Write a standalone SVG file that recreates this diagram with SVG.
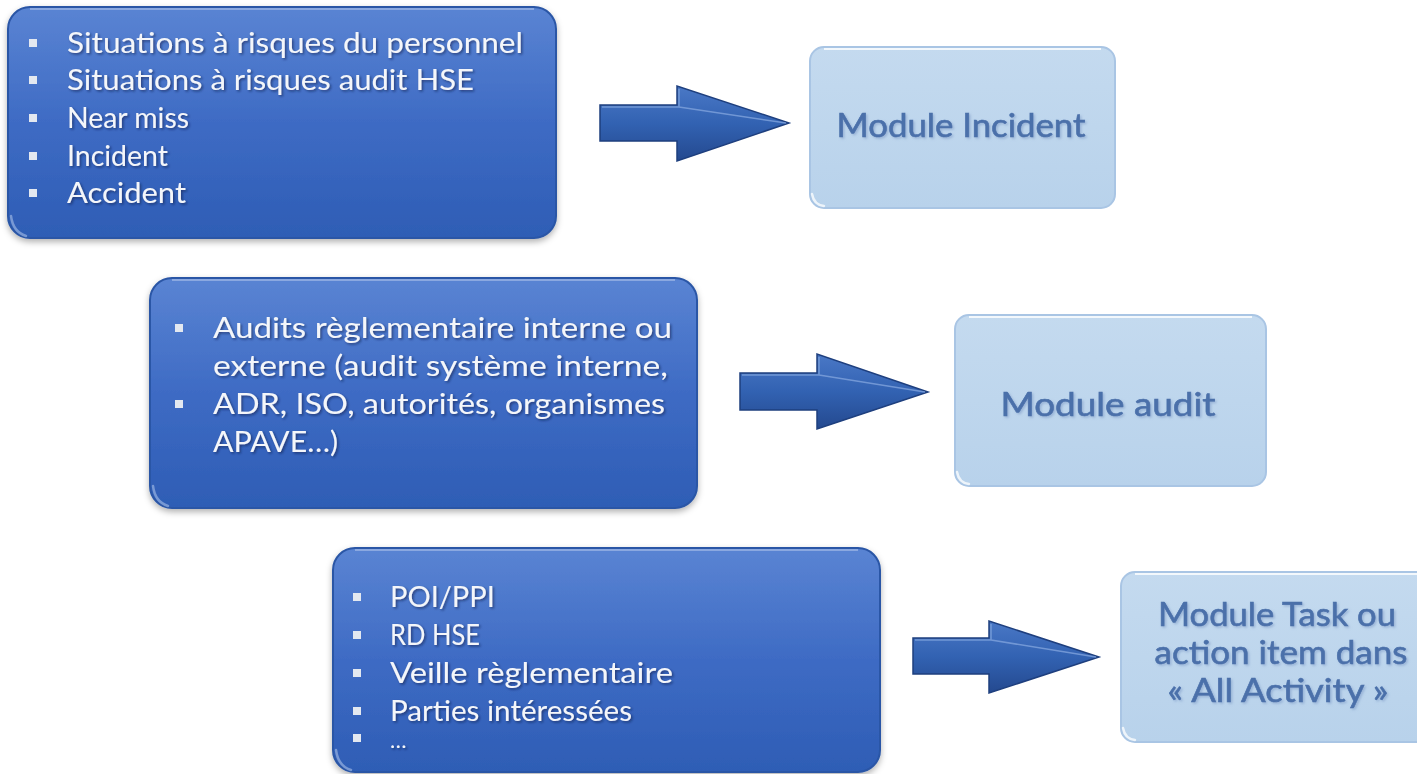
<svg xmlns="http://www.w3.org/2000/svg" width="1417" height="774" viewBox="0 0 1417 774">
<defs>
<linearGradient id="gDark" x1="0" y1="0" x2="0" y2="1">
<stop offset="0" stop-color="#5a84d3"/>
<stop offset="0.5" stop-color="#3e6bc4"/>
<stop offset="1" stop-color="#2e5db5"/>
</linearGradient>
<linearGradient id="gLight" x1="0" y1="0" x2="0" y2="1">
<stop offset="0" stop-color="#c4daef"/>
<stop offset="1" stop-color="#b8d2eb"/>
</linearGradient>
<linearGradient id="gArrow" x1="0" y1="0" x2="0" y2="1">
<stop offset="0" stop-color="#4a78c6"/>
<stop offset="0.5" stop-color="#3262b2"/>
<stop offset="1" stop-color="#24498f"/>
</linearGradient>
<filter id="shadow" x="-5%" y="-5%" width="110%" height="120%">
<feDropShadow dx="0" dy="3" stdDeviation="3" flood-color="#000" flood-opacity="0.3"/>
</filter>
<filter id="tshadow" x="-5%" y="-20%" width="110%" height="150%">
<feDropShadow dx="1.5" dy="1.5" stdDeviation="1" flood-color="#0a1f4a" flood-opacity="0.6"/>
</filter>
<filter id="bshadow" x="-5%" y="-20%" width="110%" height="150%">
<feDropShadow dx="1.5" dy="1.5" stdDeviation="1" flood-color="#6f8fbf" flood-opacity="0.5"/>
</filter>
</defs>
<style>
.dark{fill:url(#gDark);stroke:#2a56a6;stroke-width:2}
.hl{fill:none;stroke:#9fb8e6;stroke-width:2;opacity:0.7}
.light{fill:url(#gLight);stroke:#a9c5e4;stroke-width:2}
.lhl{fill:none;stroke:#ffffff;stroke-width:2;opacity:0.8}
.sw{fill:none;stroke:#ffffff;stroke-width:2.5;opacity:0.75;stroke-linecap:round}
.dsw{fill:none;stroke:#a8bfe8;stroke-width:2.5;opacity:0.6;stroke-linecap:round}
.wt{font-family:Lato,"Open Sans","Liberation Sans",sans-serif;font-size:29px;fill:#f4f6fa}
.bl{fill:#e3e8f0}
.lbl{font-family:Lato,"Open Sans","Liberation Sans",sans-serif;font-size:33px;fill:#4b70aa;stroke:#4b70aa;stroke-width:0.6;text-anchor:middle}
.arrow{fill:url(#gArrow);stroke:#1e3f7e;stroke-width:1.5}
.ahl{fill:none;stroke:#7fa2dc;stroke-width:1.5;opacity:0.8}
</style>

<g id="connectors">
<g id="arrow1">
<path class="arrow" d="M600,105 H677 V86 L789,123 L677,161 V141 H600 Z"/>
<path class="ahl" d="M602,107 H679 V89 M679,107 L786,123"/>
</g>
<g id="arrow2">
<path class="arrow" d="M740,373 H817 V354 L928,392 L817,429 V410 H740 Z"/>
<path class="ahl" d="M742,375 H819 V357 M819,375 L925,392"/>
</g>
<g id="arrow3">
<path class="arrow" d="M913,638 H989 V621 L1099,657 L989,693 V674 H913 Z"/>
<path class="ahl" d="M915,640 H991 V624 M991,640 L1096,657"/>
</g>
</g>

<g id="box1">
<rect class="dark" x="8" y="7" width="548" height="231" rx="22" filter="url(#shadow)"/>
<path class="hl" d="M30,9 H534"/>
<path class="dsw" d="M11,216 Q13,232 26,236"/>
<rect class="bl" x="29" y="39" width="8" height="8"/>
<rect class="bl" x="29" y="76" width="8" height="8"/>
<rect class="bl" x="29" y="114" width="8" height="8"/>
<rect class="bl" x="29" y="152" width="8" height="8"/>
<rect class="bl" x="29" y="189" width="8" height="8"/>
<g filter="url(#tshadow)">
<text class="wt" x="67" y="53" textLength="456" lengthAdjust="spacingAndGlyphs">Situations à risques du personnel</text>
<text class="wt" x="67" y="90" textLength="407" lengthAdjust="spacingAndGlyphs">Situations à risques audit HSE</text>
<text class="wt" x="67" y="128" textLength="122" lengthAdjust="spacingAndGlyphs">Near miss</text>
<text class="wt" x="67" y="166" textLength="101" lengthAdjust="spacingAndGlyphs">Incident</text>
<text class="wt" x="67" y="203" textLength="119" lengthAdjust="spacingAndGlyphs">Accident</text>
</g>
</g>

<g id="box2">
<rect class="light" x="810" y="47" width="305" height="161" rx="14"/>
<path class="lhl" d="M824,49 H1101"/>
<path class="sw" d="M812,194 Q814,205 824,206"/>
<text class="lbl" x="961" y="137" textLength="249" lengthAdjust="spacingAndGlyphs" filter="url(#bshadow)">Module Incident</text>
</g>

<g id="box3">
<rect class="dark" x="150" y="278" width="547" height="230" rx="22" filter="url(#shadow)"/>
<path class="hl" d="M172,280 H675"/>
<path class="dsw" d="M153,486 Q155,502 168,506"/>
<rect class="bl" x="175" y="324" width="8" height="8"/>
<rect class="bl" x="175" y="400" width="8" height="8"/>
<g filter="url(#tshadow)">
<text class="wt" x="213" y="338" textLength="459" lengthAdjust="spacingAndGlyphs">Audits règlementaire interne ou</text>
<text class="wt" x="213" y="376" textLength="455" lengthAdjust="spacingAndGlyphs">externe (audit système interne,</text>
<text class="wt" x="213" y="414" textLength="452" lengthAdjust="spacingAndGlyphs">ADR, ISO, autorités, organismes</text>
<text class="wt" x="213" y="452" textLength="125" lengthAdjust="spacingAndGlyphs">APAVE…)</text>
</g>
</g>

<g id="box4">
<rect class="light" x="955" y="315" width="311" height="171" rx="14"/>
<path class="lhl" d="M969,317 H1252"/>
<path class="sw" d="M957,472 Q959,483 969,484"/>
<text class="lbl" x="1108" y="416" textLength="215" lengthAdjust="spacingAndGlyphs" filter="url(#bshadow)">Module audit</text>
</g>

<g id="box5">
<rect class="dark" x="333" y="548" width="547" height="224" rx="22" filter="url(#shadow)"/>
<path class="hl" d="M355,550 H858"/>
<path class="dsw" d="M336,750 Q338,766 351,770"/>
<rect class="bl" x="353" y="593" width="8" height="8"/>
<rect class="bl" x="353" y="631" width="8" height="8"/>
<rect class="bl" x="353" y="669" width="8" height="8"/>
<rect class="bl" x="353" y="707" width="8" height="8"/>
<rect class="bl" x="353" y="734" width="8" height="8"/>
<g filter="url(#tshadow)">
<text class="wt" x="390" y="607">POI/PPI</text>
<text class="wt" x="390" y="645" textLength="90" lengthAdjust="spacingAndGlyphs">RD HSE</text>
<text class="wt" x="390" y="683" textLength="283" lengthAdjust="spacingAndGlyphs">Veille règlementaire</text>
<text class="wt" x="390" y="721" textLength="242" lengthAdjust="spacingAndGlyphs">Parties intéressées</text>
<text class="wt" x="390" y="748" style="font-size:22px">…</text>
</g>
</g>

<g id="box6">
<rect class="light" x="1121" y="572" width="310" height="170" rx="14"/>
<path class="lhl" d="M1135,574 H1417"/>
<path class="sw" d="M1123,728 Q1125,739 1135,740"/>
<g filter="url(#bshadow)">
<text class="lbl" x="1277" y="626" textLength="238" lengthAdjust="spacingAndGlyphs">Module Task ou</text>
<text class="lbl" x="1281" y="664" textLength="253" lengthAdjust="spacingAndGlyphs">action item dans</text>
<text class="lbl" x="1278" y="702" textLength="221" lengthAdjust="spacingAndGlyphs">« All Activity »</text>
</g>
</g>
</svg>
